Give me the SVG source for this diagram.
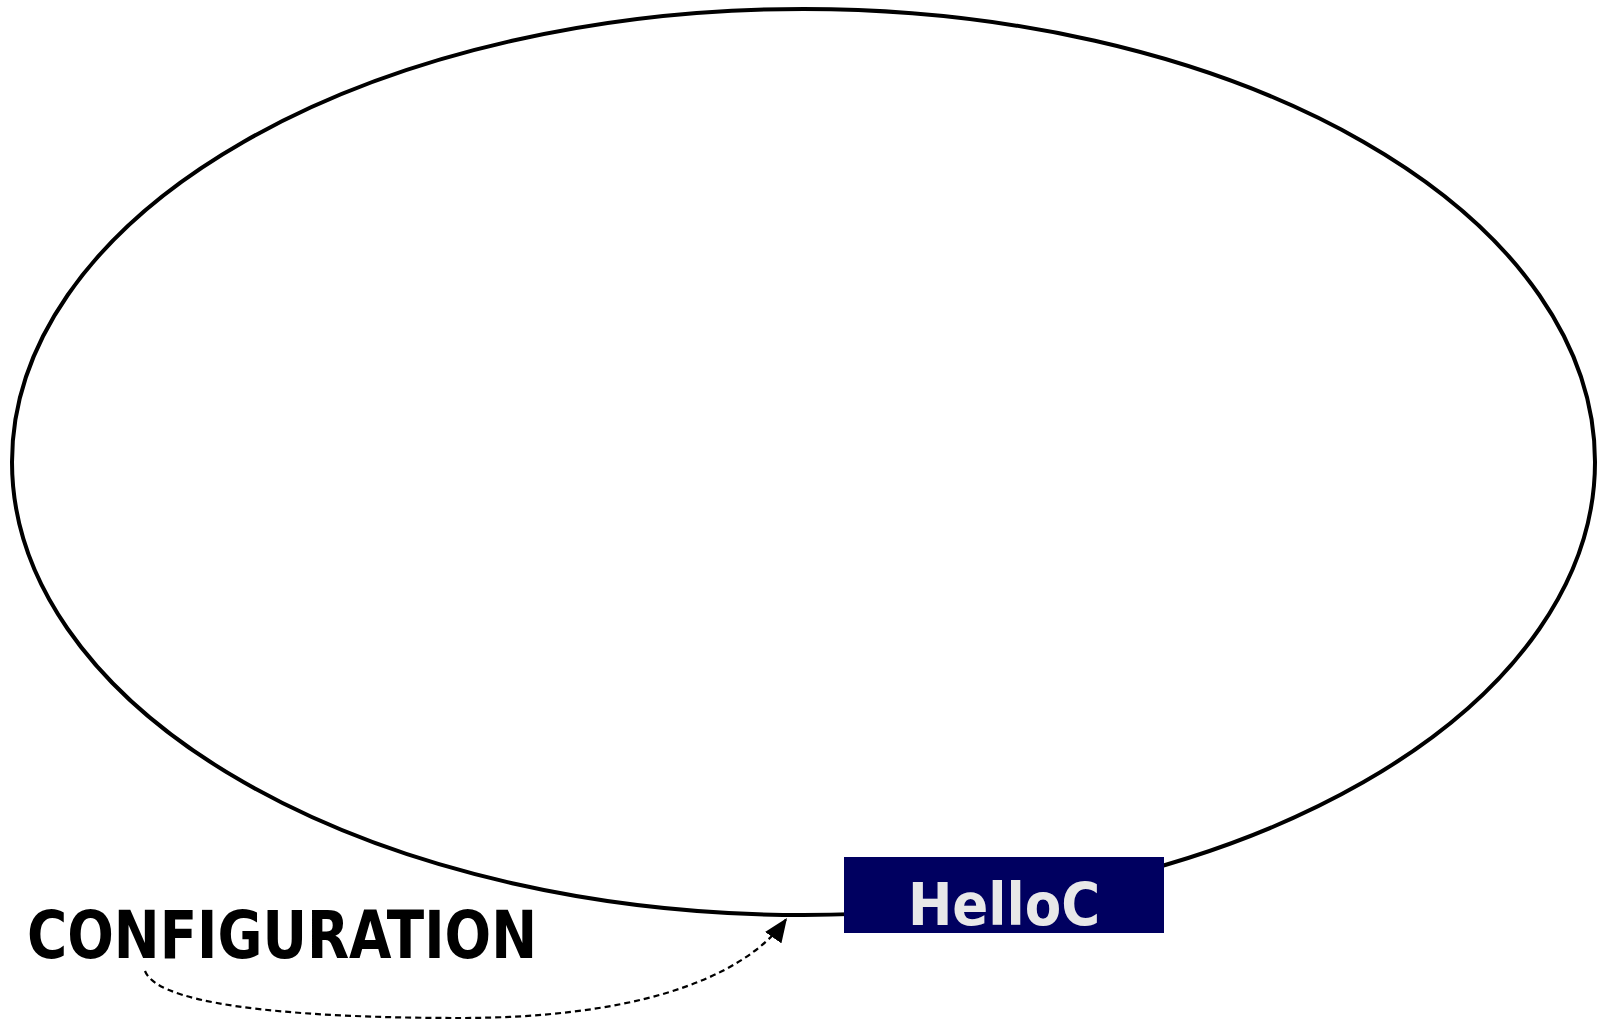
<svg xmlns="http://www.w3.org/2000/svg" width="1604" height="1022" viewBox="0 0 1604 1022">
  <defs>
    <style>
      .boundary { fill: none; stroke: #000; stroke-width: 4; }
      .link { fill: none; stroke: #000; stroke-width: 2.2; stroke-dasharray: 6 4; }
      .label { font-family: "DejaVu Sans Condensed", "DejaVu Sans", sans-serif; font-weight: bold; font-stretch: condensed; }
    </style>
    <marker id="arrow" viewBox="0 0 24 20" refX="24" refY="10" markerWidth="24" markerHeight="20" markerUnits="userSpaceOnUse" orient="auto">
      <path d="M0,0 L24,10 L0,20 z" fill="#000"/>
    </marker>
  </defs>

  <!-- system boundary -->
  <g id="system">
    <ellipse class="boundary" cx="803.5" cy="462" rx="791.5" ry="453"/>
  </g>

  <!-- connectors -->
  <g id="connectors">
    <path class="link" d="M145,971 C160,1010 330,1018 460,1018 C620,1018 740,985 787,918" marker-end="url(#arrow)"/>
  </g>

  <!-- component node -->
  <g id="helloc">
    <rect x="844" y="857" width="320" height="76" fill="#000060"/>
    <text class="label" x="1004" y="925" font-size="59" fill="#e8e8e8" text-anchor="middle">HelloC</text>
  </g>

  <!-- configuration label -->
  <g id="configuration">
    <text class="label" x="27" y="958" font-size="65" fill="#000" textLength="510" lengthAdjust="spacingAndGlyphs">CONFIGURATION</text>
  </g>
</svg>
